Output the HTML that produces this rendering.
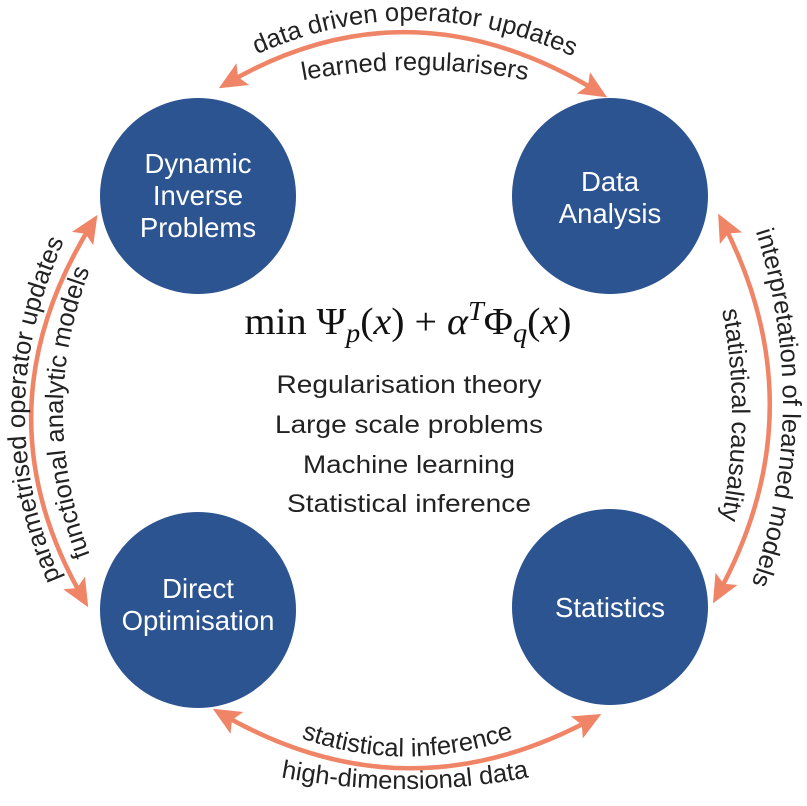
<!DOCTYPE html>
<html><head><meta charset="utf-8"><style>html,body{margin:0;padding:0;background:#fff}svg{display:block}</style></head>
<body>
<svg width="807" height="806" viewBox="0 0 807 806" xmlns="http://www.w3.org/2000/svg" font-family="Liberation Sans, sans-serif">
<defs>
<marker id="ah" viewBox="0 0 10 10" refX="7" refY="5" markerWidth="6.2" markerHeight="6.2" markerUnits="strokeWidth" orient="auto-start-reverse">
<path d="M0,0.5 L10,5 L0,9.5 L2,5 z" fill="#f08466"/>
</marker>
<path id="tO" d="M225,70 Q410,-30 605,72"/>
<path id="tI" d="M275,86 Q415,54 555,86"/>
<path id="lO" d="M78,615 Q-30,411 82,205"/>
<path id="lI" d="M112,605 Q14,411 112,220"/>
<path id="rO" d="M745,200 Q823,410 740,615"/>
<path id="rI" d="M705,245 Q759,410 705,585"/>
<path id="bO" d="M285,732 Q405,781 530,732"/>
<path id="bI" d="M260,773 Q405,805 550,773"/>
</defs>
<g fill="#2c5491">
<circle cx="198" cy="196" r="98"/>
<circle cx="610" cy="196" r="98"/>
<circle cx="198" cy="610" r="98"/>
<circle cx="610" cy="607" r="98"/>
</g>
<g fill="none" stroke="#f08466" stroke-width="4.5" marker-start="url(#ah)" marker-end="url(#ah)">
<path d="M226,84 Q410,-24 600,93"/>
<path d="M93,222 Q-26,411 84,600"/>
<path d="M722,221 Q820,410 717,596"/>
<path d="M220,713 Q405,821 594,718"/>
</g>
<g fill="#fff" font-size="27.5" text-anchor="middle">
<text x="198" y="173">Dynamic</text>
<text x="198" y="205">Inverse</text>
<text x="198" y="237">Problems</text>
<text x="610" y="191">Data</text>
<text x="610" y="223">Analysis</text>
<text x="198" y="598">Direct</text>
<text x="198" y="630">Optimisation</text>
<text x="610" y="617">Statistics</text>
</g>
<g fill="#222" font-size="25.5" text-anchor="middle">
<text><textPath href="#tO" startOffset="50%">data driven operator updates</textPath></text>
<text><textPath href="#tI" startOffset="50%">learned regularisers</textPath></text>
<text><textPath href="#lO" startOffset="50%">parametrised operator updates</textPath></text>
<text><textPath href="#lI" startOffset="50%">functional analytic models</textPath></text>
<text><textPath href="#rO" startOffset="50%">interpretation of learned models</textPath></text>
<text><textPath href="#rI" startOffset="50%">statistical causality</textPath></text>
<text><textPath href="#bO" startOffset="50%">statistical inference</textPath></text>
<text><textPath href="#bI" startOffset="50%">high-dimensional data</textPath></text>
</g>
<text x="408" y="334" font-family="Liberation Serif, serif" font-size="38" fill="#111" text-anchor="middle" textLength="327" lengthAdjust="spacingAndGlyphs">min Ψ<tspan font-style="italic" font-size="27" dy="8">p</tspan><tspan dy="-8">(</tspan><tspan font-style="italic">x</tspan>) + <tspan font-style="italic">α</tspan><tspan font-style="italic" font-size="27" dy="-14">T</tspan><tspan dy="14">Φ</tspan><tspan font-style="italic" font-size="27" dy="8">q</tspan><tspan dy="-8">(</tspan><tspan font-style="italic">x</tspan>)</text>
<g fill="#222" font-size="25" text-anchor="middle">
<text x="409" y="393" textLength="265" lengthAdjust="spacingAndGlyphs">Regularisation theory</text>
<text x="409" y="433" textLength="268" lengthAdjust="spacingAndGlyphs">Large scale problems</text>
<text x="409" y="473" textLength="212" lengthAdjust="spacingAndGlyphs">Machine learning</text>
<text x="409" y="512" textLength="244" lengthAdjust="spacingAndGlyphs">Statistical inference</text>
</g>
</svg>
</body></html>
